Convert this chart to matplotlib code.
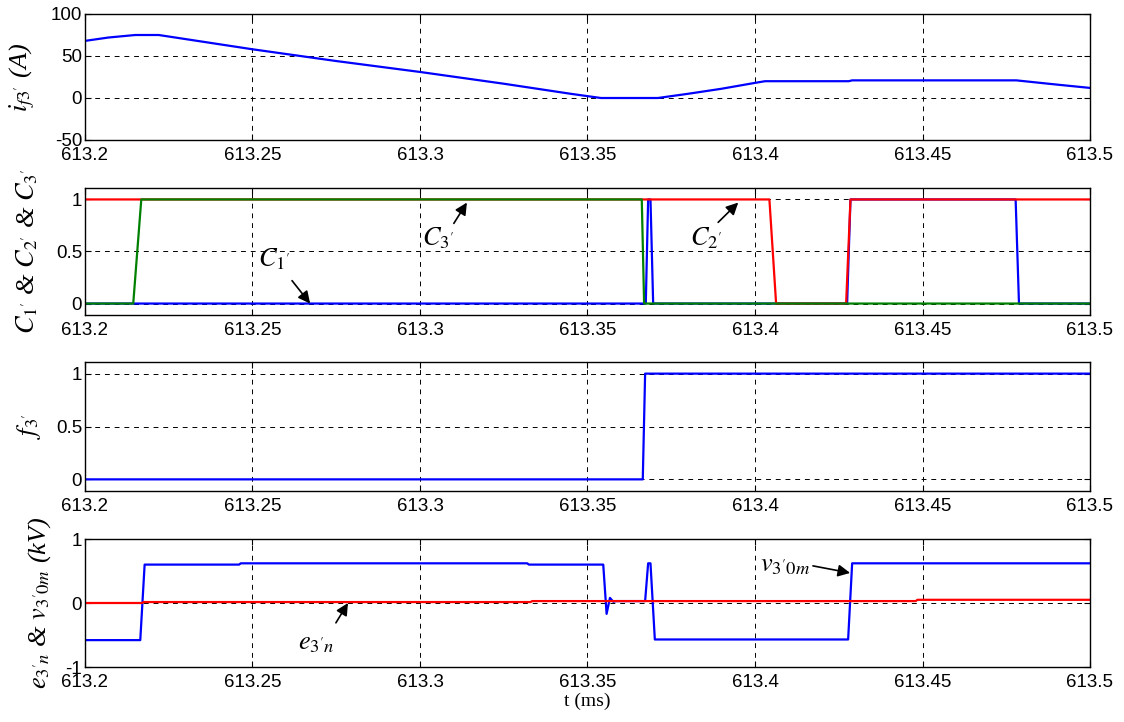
import numpy as np
import matplotlib
matplotlib.use("Agg")
import matplotlib.pyplot as plt

plt.rcParams['font.family'] = ['Liberation Sans', 'DejaVu Sans']
plt.rcParams['mathtext.fontset'] = 'stix'
plt.rcParams['axes.unicode_minus'] = False

# ---- data ----
t_if = [613.2, 613.207, 613.215, 613.222, 613.25, 613.275, 613.3, 613.325, 613.345, 613.354,
        613.371, 613.38, 613.39, 613.4, 613.403, 613.428, 613.429, 613.478, 613.49, 613.5]
i_f = [68, 72, 75, 75, 58, 44, 31, 17, 5, 0,
       0, 5, 11, 18, 20, 20, 21, 21, 16, 12]

t_c1 = [613.2, 613.3674, 613.3681, 613.3688, 613.3696, 613.4275, 613.4285, 613.4778, 613.4788, 613.5]
c1 = [0, 0, 1, 1, 0, 0, 1, 1, 0, 0]
t_c2 = [613.2, 613.4043, 613.4063, 613.4272, 613.4285, 613.5]
c2 = [1, 1, 0, 0, 1, 1]
t_c3 = [613.2, 613.2144, 613.2168, 613.3662, 613.3669, 613.5]
c3 = [0, 0, 1, 1, 0, 0]

t_f = [613.2, 613.3665, 613.3672, 613.5]
f3 = [0, 0, 1, 1]

t_v = [613.2, 613.2165, 613.2178, 613.246, 613.2465, 613.332, 613.3325, 613.3547, 613.3557,
       613.3567, 613.3577, 613.3585, 613.3672, 613.3681, 613.3688, 613.3701,
       613.4278, 613.429, 613.5]
v30m = [-0.58, -0.58, 0.60, 0.60, 0.62, 0.62, 0.60, 0.60, -0.17,
        0.08, 0.02, 0.03, 0.03, 0.62, 0.62, -0.57,
        -0.57, 0.62, 0.62]
t_e = [613.2, 613.217, 613.2175, 613.333, 613.3335, 613.448, 613.4485, 613.5]
e3n = [0.0, 0.0, 0.015, 0.015, 0.03, 0.03, 0.05, 0.05]

xticks = [613.2, 613.25, 613.3, 613.35, 613.4, 613.45, 613.5]
xlabels = ['613.2', '613.25', '613.3', '613.35', '613.4', '613.45', '613.5']

W, H = 1124, 722
fig = plt.figure(figsize=(W / 100, H / 100), dpi=100)

def panel(top, bottom):
    return fig.add_axes([85 / W, 1 - bottom / H, (1090 - 85) / W, (bottom - top) / H])

ax1 = panel(14, 140)
ax2 = panel(188, 315)
ax3 = panel(362, 491)
ax4 = panel(539, 667)

lab = dict(fontsize=19, family=['Liberation Serif'], style='italic')
arr = dict(arrowstyle='-|>', color='black', lw=1.2, shrinkA=0, shrinkB=0, mutation_scale=18)

def note(ax, text, pos, tail, head):
    ax.text(pos[0], pos[1], text, fontsize=19, va='center', ha='left')
    ax.annotate('', xy=head, xytext=tail, arrowprops=arr)

ax1.plot(t_if, i_f, color='#0000ff', lw=1.6)
ax1.set_ylim(-50, 100)
ax1.set_yticks([-50, 0, 50, 100])
ax1.set_ylabel(r"$i_{f3'}$ (A)", **lab)

ax2.plot(t_c1, c1, color='#0000ff', lw=1.6)
ax2.plot(t_c2, c2, color='#ff0000', lw=1.6)
ax2.plot(t_c3, c3, color='#008000', lw=1.6)
ax2.set_ylim(-0.11, 1.11)
ax2.set_yticks([0, 0.5, 1])
ax2.set_yticklabels(['0', '0.5', '1'])
ax2.set_ylabel(r"$C_{1'}$ & $C_{2'}$ & $C_{3'}$", **lab)
note(ax2, r"$C_{1'}$", (613.2515, 0.43), (613.2618, 0.22), (613.2672, 0.0))
note(ax2, r"$C_{3'}$", (613.3005, 0.63), (613.3101, 0.77), (613.314, 0.97))
note(ax2, r"$C_{2'}$", (613.3805, 0.63), (613.389, 0.78), (613.395, 0.97))

ax3.plot(t_f, f3, color='#0000ff', lw=1.6)
ax3.set_ylim(-0.11, 1.11)
ax3.set_yticks([0, 0.5, 1])
ax3.set_yticklabels(['0', '0.5', '1'])
ax3.set_ylabel(r"$f_{3'}$", **lab)

ax4.plot(t_v, v30m, color='#0000ff', lw=1.6)
ax4.plot(t_e, e3n, color='#ff0000', lw=1.6)
ax4.set_ylim(-1, 1)
ax4.set_yticks([-1, 0, 1])
ax4.set_ylabel(r"$e_{3'n}$ & $v_{3'0m}$ (kV)", **lab)
note(ax4, r"$e_{3'n}$", (613.2635, -0.62), (613.2749, -0.31), (613.2785, 0.0))
note(ax4, r"$v_{3'0m}$", (613.4015, 0.6), (613.4173, 0.58), (613.4284, 0.47))
ax4.set_xlabel('t (ms)', fontsize=14, family=['Liberation Serif'], labelpad=1)

# y label positions differ per panel (depends on tick label width)
label_x = [-0.048, -0.045, -0.042, -0.032]
for ax, lx in zip((ax1, ax2, ax3, ax4), label_x):
    ax.set_xlim(613.2, 613.5)
    ax.set_xticks(xticks)
    ax.set_xticklabels(xlabels)
    ax.grid(True, color='black', linestyle=(0, (5, 5)), lw=0.7)
    ax.tick_params(direction='in', top=True, right=True, labelsize=13.5, length=4, pad=2)
    ax.tick_params(axis='x', pad=5)
    ax.yaxis.set_label_coords(lx, 0.5)
    for s in ax.spines.values():
        s.set_linewidth(1.0)

fig.savefig('out.png', dpi=100)
